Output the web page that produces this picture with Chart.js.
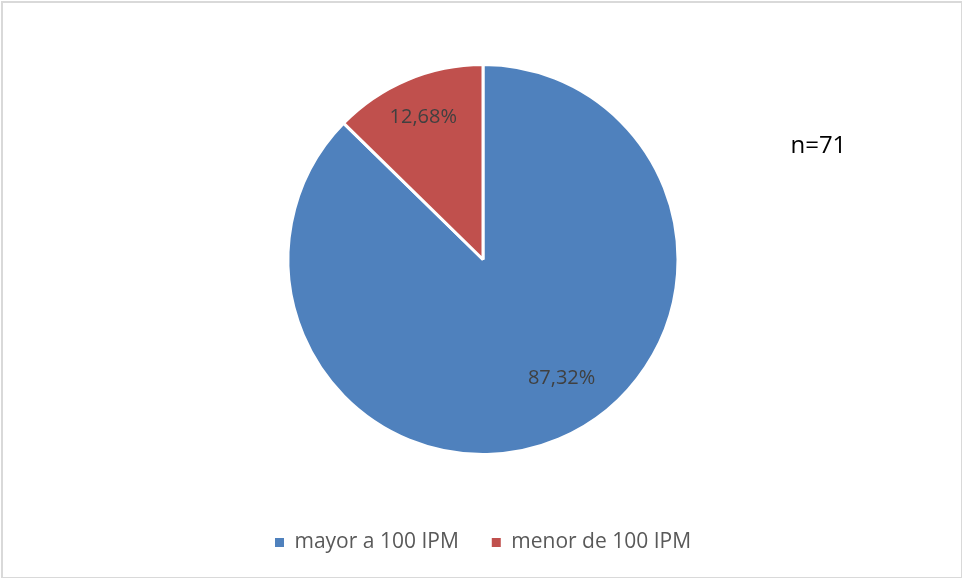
<!DOCTYPE html>
<html>
<head>
<meta charset="utf-8">
<script src="https://cdn.jsdelivr.net/npm/chart.js@4"></script>
<style>
  html, body { margin: 0; padding: 0; background: #fff; }
  #wrap { position: absolute; left: 1px; top: 1px; width: 958px; height: 574px; border: 2px solid #d9d9d9; box-sizing: content-box; }
  canvas { display: block; }
</style>
</head>
<body>
<div id="wrap"><canvas id="c" width="958" height="574"></canvas></div>
<script>
const categories = ['mayor a 100 IPM', 'menor de 100 IPM'];
const values = [87.32, 12.68];
const colors = ['#4f81bd', '#c0504d'];
const sampleNote = 'n=71';

// label placement, roughly where Excel put them (fraction of radius, angle shift in degrees)
const labelRadius = [0.73, 0.79];
const labelShift = [-10.7, 0];

const pieLabels = {
  id: 'pieLabels',
  afterDatasetsDraw(chart) {
    const { ctx } = chart;
    const meta = chart.getDatasetMeta(0);
    ctx.save();
    ctx.font = '20px "Open Sans", sans-serif';
    ctx.fillStyle = '#404040';
    ctx.textAlign = 'center';
    ctx.textBaseline = 'middle';
    meta.data.forEach((arc, i) => {
      const mid = (arc.startAngle + arc.endAngle) / 2 + labelShift[i] * Math.PI / 180;
      const r = arc.outerRadius * labelRadius[i];
      const x = arc.x + Math.cos(mid) * r;
      const y = arc.y + Math.sin(mid) * r;
      ctx.fillText(values[i].toFixed(2).replace('.', ',') + '%', x, y);
    });
    // sample size note, to the right of the pie
    const arc0 = meta.data[0];
    ctx.font = '24px "Open Sans", sans-serif';
    ctx.fillStyle = '#000';
    ctx.fillText(sampleNote, arc0.x + arc0.outerRadius * 1.72, arc0.y - arc0.outerRadius * 0.58);
    ctx.restore();
  }
};

new Chart(document.getElementById('c'), {
  type: 'pie',
  data: {
    labels: categories,
    datasets: [{
      data: values,
      backgroundColor: colors,
      borderColor: '#ffffff',
      borderWidth: 3
    }]
  },
  options: {
    responsive: false,
    animation: false,
    radius: 195,
    layout: { padding: { top: 17, bottom: 14, left: 2, right: 0 } },
    plugins: {
      tooltip: { enabled: false },
      legend: {
        position: 'bottom',
        labels: {
          boxWidth: 9,
          boxHeight: 9,
          padding: 33,
          color: '#595959',
          font: { family: '"Open Sans", sans-serif', size: 21 },
          generateLabels(chart) {
            return Chart.overrides.pie.plugins.legend.labels.generateLabels(chart)
              .map(l => Object.assign(l, { lineWidth: 0 }));
          }
        }
      }
    }
  },
  plugins: [pieLabels]
});
</script>
</body>
</html>
